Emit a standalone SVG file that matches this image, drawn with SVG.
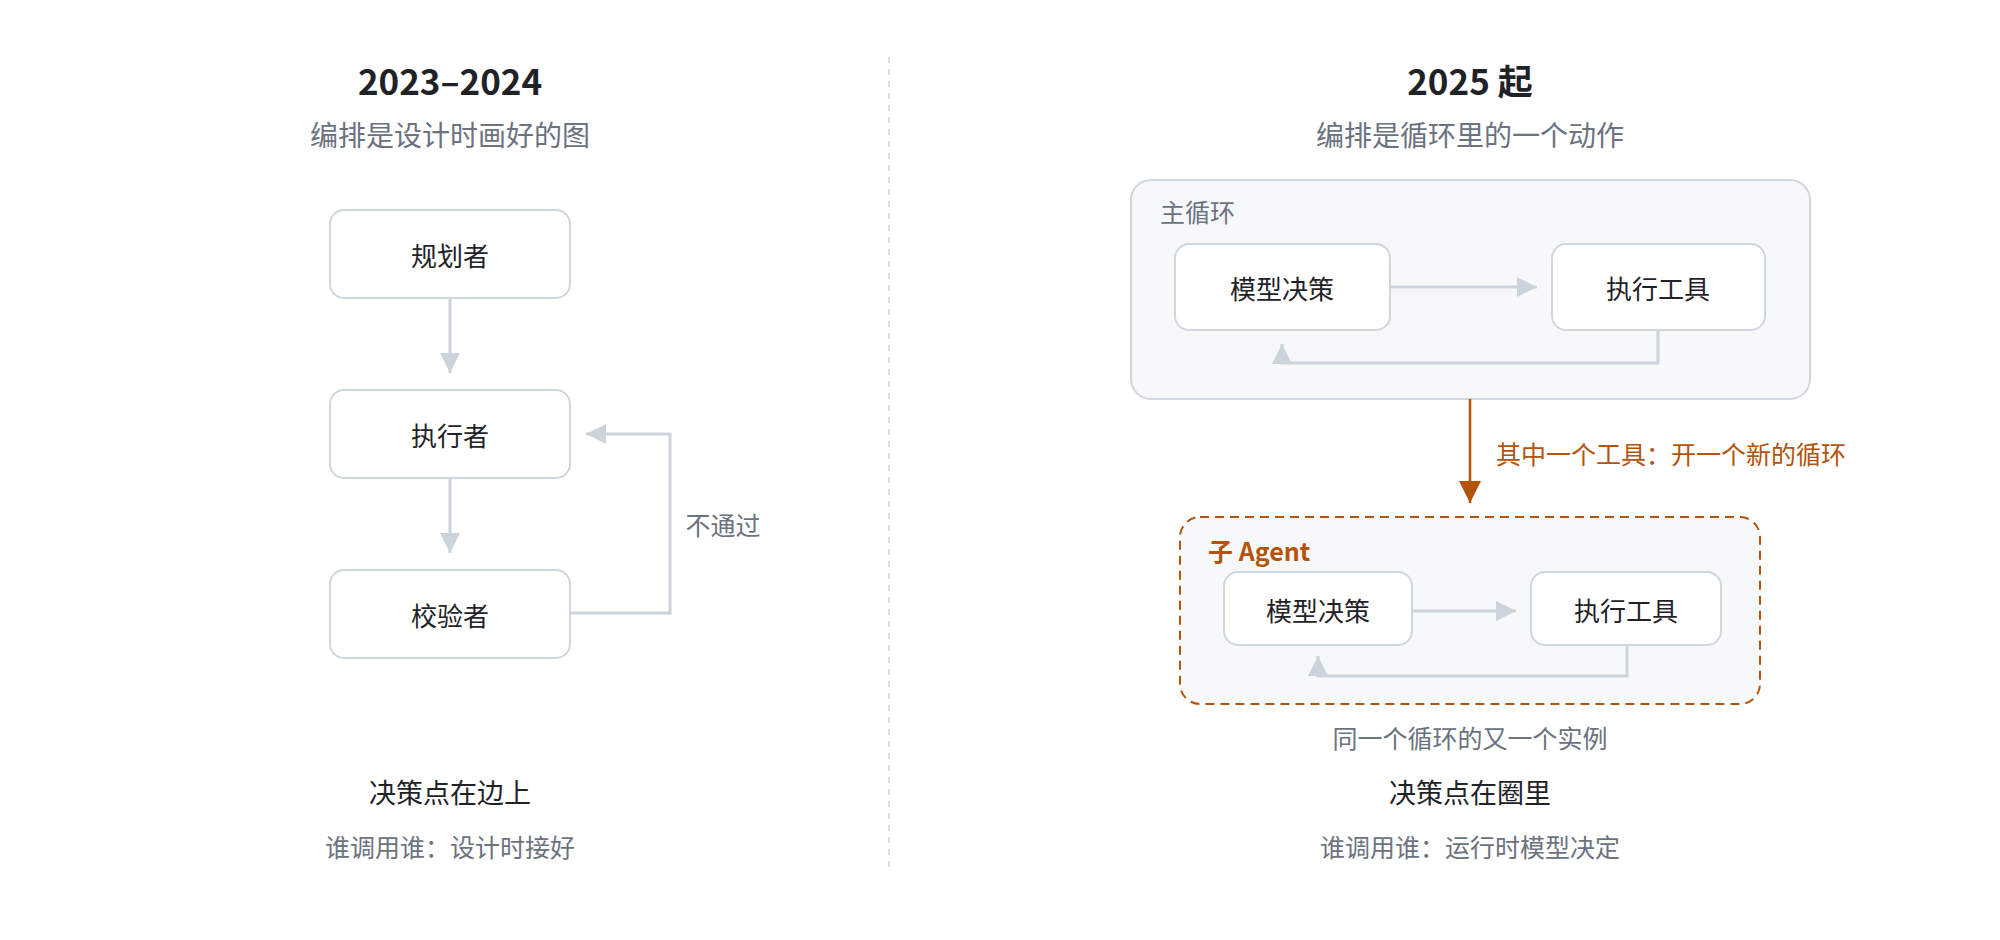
<svg xmlns="http://www.w3.org/2000/svg" width="2000" height="940" viewBox="0 0 2000 940">
<style>
text{font-family:"Noto Sans CJK SC","Liberation Sans",sans-serif;text-anchor:middle;dominant-baseline:central}
.t{font-size:35px;font-weight:bold;fill:#1f2328}
.s{font-size:28px;fill:#6b7280}
.n{font-size:26px;fill:#1f2328}
.l{font-size:25px;fill:#6b7280}
.b{font-size:27px;fill:#1f2328}
.node{fill:#fff;stroke:#cfd6de;stroke-width:2}
.c{fill:none;stroke:#cbd3dc;stroke-width:3}
</style>
<defs>
<marker id="a" viewBox="0 0 10 10" refX="10" refY="5" markerWidth="20" markerHeight="20" markerUnits="userSpaceOnUse" orient="auto"><path d="M0,0L10,5L0,10z" fill="#cbd3dc"/></marker>
<marker id="o" viewBox="0 0 10 10" refX="10" refY="5" markerWidth="22" markerHeight="22" markerUnits="userSpaceOnUse" orient="auto"><path d="M0,0L10,5L0,10z" fill="#b4530b"/></marker>
</defs>
<rect width="2000" height="940" fill="#fff"/>
<line x1="889" y1="57" x2="889" y2="867" stroke="#d0d5db" stroke-width="1.5" stroke-dasharray="6,6"/>
<text class="t" x="450" y="79">2023–2024</text>
<text class="s" x="450" y="134">编排是设计时画好的图</text>
<text class="t" x="1470" y="79">2025 起</text>
<text class="s" x="1470" y="134">编排是循环里的一个动作</text>
<g id="main-loop"><rect x="1131" y="180" width="679" height="219" rx="20" fill="#f6f8fa" stroke="#cfd6de" stroke-width="2"/><text class="l" x="1160" y="211" style="text-anchor:start">主循环</text></g>
<g id="sub-agent"><rect x="1180" y="517" width="580" height="187" rx="20" fill="#f6f8fa" stroke="#b4530b" stroke-width="2" stroke-dasharray="9,6"/><text x="1208" y="550" style="text-anchor:start;font-size:25px;font-weight:bold;fill:#b4530b">子 Agent</text></g>
<g id="connectors">
<line class="c" x1="450" y1="298" x2="450" y2="373" marker-end="url(#a)"/>
<line class="c" x1="450" y1="478" x2="450" y2="553" marker-end="url(#a)"/>
<path class="c" d="M570,613H670V434H586" marker-end="url(#a)"/>
<line class="c" x1="1390" y1="287" x2="1537" y2="287" marker-end="url(#a)"/>
<path class="c" d="M1658,330V363H1282V344" marker-end="url(#a)"/>
<line x1="1470" y1="399" x2="1470" y2="503" stroke="#b4530b" stroke-width="2.5" marker-end="url(#o)"/>
<line class="c" x1="1412" y1="611" x2="1516" y2="611" marker-end="url(#a)"/>
<path class="c" d="M1627,645V676H1318V656" marker-end="url(#a)"/>
</g>
<text class="l" x="723" y="524">不通过</text>
<text x="1496" y="453" style="text-anchor:start;font-size:25px;fill:#b4530b">其中一个工具：开一个新的循环</text>
<g id="planner"><rect class="node" x="330" y="210" width="240" height="88" rx="14"/><text class="n" x="450" y="254">规划者</text></g>
<g id="executor"><rect class="node" x="330" y="390" width="240" height="88" rx="14"/><text class="n" x="450" y="434">执行者</text></g>
<g id="verifier"><rect class="node" x="330" y="570" width="240" height="88" rx="14"/><text class="n" x="450" y="614">校验者</text></g>
<g id="main-decide"><rect class="node" x="1175" y="244" width="215" height="86" rx="14"/><text class="n" x="1282" y="287">模型决策</text></g>
<g id="main-tool"><rect class="node" x="1552" y="244" width="213" height="86" rx="14"/><text class="n" x="1658" y="287">执行工具</text></g>
<g id="sub-decide"><rect class="node" x="1224" y="572" width="188" height="73" rx="14"/><text class="n" x="1318" y="609">模型决策</text></g>
<g id="sub-tool"><rect class="node" x="1531" y="572" width="190" height="73" rx="14"/><text class="n" x="1626" y="609">执行工具</text></g>
<text class="l" x="1470" y="737">同一个循环的又一个实例</text>
<text class="b" x="450" y="791">决策点在边上</text>
<text class="l" x="450" y="846">谁调用谁：设计时接好</text>
<text class="b" x="1470" y="791">决策点在圈里</text>
<text class="l" x="1470" y="846">谁调用谁：运行时模型决定</text>
</svg>
